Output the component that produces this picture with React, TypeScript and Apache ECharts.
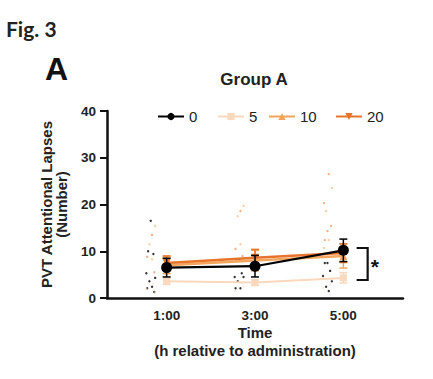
import React, { useEffect, useRef } from "react";
import * as echarts from "echarts";

const times = [1, 3, 5];
const timeLabels = ["1:00", "3:00", "5:00"];
const groups = ["0", "5", "10", "20"];
const colors = ["#000000", "#f9d8bd", "#f4a55c", "#e8732a"];

const means0 = [6.5, 6.8, 10.2];
const sem0 = [2.0, 2.3, 2.4];
const means5 = [3.6, 3.3, 4.3];
const sem5 = [0.7, 0.6, 1.1];
const means10 = [7.0, 8.0, 9.0];
const sem10 = [1.8, 2.2, 2.6];
const means20 = [7.5, 8.6, 9.6];
const sem20 = [1.5, 1.8, 2.0];

// individual subject values at 1:00, 3:00, 5:00
const dots0 = [
  [16.5, 10, 9.4, 5.3, 4.3, 3.6, 2.4, 2.1, 1.3],
  [8.3, 8.3, 5.3, 4.5, 4.5, 3.6, 2.1, 2.1],
  [7.5, 7.5, 5.8, 4.7, 3.6, 2.4, 1.5],
];
const dots5 = [
  [3.0, 2.0, 1.2],
  [3.2, 1.5, 2.5],
  [3.0, 2.2, 4.0],
];
const dots10 = [
  [15.4, 11.5, 8.3],
  [19.7, 17.5, 11.5],
  [23.5, 18.6, 12.4, 10.7],
];
const dots20 = [
  [13.5, 8.8, 5.5],
  [18.6, 10.5, 9.0],
  [26.5, 20.3, 15.4, 14.3, 12.4],
];

const xRange = [-0.35, 6.35];
const sigRange = [3.85, 10.7];

const allMeans = [means0, means5, means10, means20];
const allSem = [sem0, sem5, sem10, sem20];
const allDots = [dots0, dots5, dots10, dots20];
const symbols = ["circle", "rect", "triangle", "path://M0,0 L10,0 L5,10 Z"];
const symbolSizes = [11, 7, 8, 8];
const lineWidths = [2.2, 2, 2.5, 2.5];
const legendLefts = [152, 212, 263, 330];

const jitter = [0, -0.06, 0.06, -0.1, 0.1, -0.03, 0.03, -0.08, 0.08];

export default function App() {
  const ref = useRef<HTMLDivElement>(null);
  useEffect(() => {
    if (!ref.current) return;
    const chart = echarts.init(ref.current, null, { renderer: "svg" });
    const font = "'Liberation Sans', Arial, sans-serif";

    const dotSeries: any[] = allDots.map((dd, g) => ({
      type: "scatter",
      name: groups[g] + "_dots",
      symbol: "circle",
      symbolSize: 2.4,
      itemStyle: { color: colors[g], opacity: g === 0 ? 0.8 : 0.55 },
      z: 1,
      data: dd.flatMap((vals, ti) =>
        vals.map((v, k) => [times[ti] - 0.36 + jitter[(k + g * 2) % jitter.length], v])
      ),
      silent: true,
    }));

    const errSeries: any[] = allMeans.map((m, g) => ({
      type: "custom",
      name: groups[g] + "_err",
      z: g === 0 ? 6 : 3 + g * 0.1,
      data: times.map((t, i) => [t, m[i] - allSem[g][i], m[i] + allSem[g][i]]),
      renderItem: (params: any, api: any) => {
        const x = api.value(0);
        const lo = api.coord([x, api.value(1)]);
        const hi = api.coord([x, api.value(2)]);
        const w = 4;
        const style = { stroke: colors[g], lineWidth: 1.5, fill: "none" };
        return {
          type: "group",
          children: [
            { type: "line", shape: { x1: lo[0], y1: lo[1], x2: hi[0], y2: hi[1] }, style },
            { type: "line", shape: { x1: lo[0] - w, y1: lo[1], x2: lo[0] + w, y2: lo[1] }, style },
            { type: "line", shape: { x1: hi[0] - w, y1: hi[1], x2: hi[0] + w, y2: hi[1] }, style },
          ],
        };
      },
      silent: true,
    }));

    const order = [1, 2, 3, 0];
    const lineSeries: any[] = order.map((g) => ({
      type: "line",
      name: groups[g],
      data: times.map((t, i) => [t, allMeans[g][i]]),
      symbol: symbols[g],
      symbolSize: symbolSizes[g],
      showSymbol: true,
      lineStyle: { color: colors[g], width: lineWidths[g] },
      itemStyle: { color: colors[g] },
      z: g === 0 ? 8 : 4 + g * 0.1,
    }));

    const bracket: any = {
      type: "custom",
      name: "sig",
      z: 10,
      data: [[5.3, 5.55, sigRange[0], sigRange[1]]],
      renderItem: (params: any, api: any) => {
        const a = api.coord([api.value(0), api.value(3)]);
        const b = api.coord([api.value(1), api.value(3)]);
        const c = api.coord([api.value(1), api.value(2)]);
        const d = api.coord([api.value(0), api.value(2)]);
        const mid = api.coord([api.value(1), (api.value(2) + api.value(3)) / 2]);
        return {
          type: "group",
          children: [
            {
              type: "polyline",
              shape: { points: [a, b, c, d] },
              style: { stroke: "#111", lineWidth: 2.2, fill: "none" },
            },
            {
              type: "text",
              x: mid[0] + 3,
              y: mid[1] + 3,
              style: {
                text: "*",
                fill: "#111",
                font: `bold 21px ${font}`,
                align: "left",
                verticalAlign: "middle",
              },
            },
          ],
        };
      },
      silent: true,
    };

    const axisLineStyle = { color: "#111", width: 2.5 };

    chart.setOption({
      animation: false,
      grid: { left: 107, right: 30, top: 111, bottom: 81 },
      legend: groups.map((g, i) => ({
        data: [g],
        left: legendLefts[i],
        top: 104,
        itemWidth: 26,
        itemHeight: 9,
        textStyle: { fontFamily: font, fontSize: 15, color: "#222" },
      })),
      xAxis: {
        type: "value",
        min: xRange[0],
        max: xRange[1],
        splitLine: { show: false },
        axisLine: { show: true, onZero: false, lineStyle: axisLineStyle },
        axisTick: { show: false },
        axisLabel: {
          customValues: times,
          formatter: (v: number) => timeLabels[times.indexOf(v)] ?? "",
          fontFamily: font,
          fontWeight: "bold",
          fontSize: 13.5,
          color: "#222",
          margin: 10,
        },
        name: "Time\n(h relative to administration)",
        nameLocation: "middle",
        nameGap: 25,
        nameTextStyle: {
          fontFamily: font,
          fontWeight: "bold",
          fontSize: 15,
          color: "#222",
          lineHeight: 18,
        },
      },
      yAxis: {
        type: "value",
        min: 0,
        max: 40,
        interval: 10,
        splitLine: { show: false },
        axisLine: { show: true, onZero: false, lineStyle: axisLineStyle },
        axisTick: { show: true, length: 7, lineStyle: { color: "#111", width: 2 } },
        axisLabel: {
          fontFamily: font,
          fontWeight: "bold",
          fontSize: 13.5,
          color: "#222",
          margin: 11,
        },
        name: "PVT Attentional Lapses\n(Number)",
        nameLocation: "middle",
        nameGap: 38,
        nameTextStyle: {
          fontFamily: font,
          fontWeight: "bold",
          fontSize: 15,
          color: "#222",
          lineHeight: 15,
        },
      },
      graphic: [
        {
          type: "text",
          left: 6,
          top: 18,
          style: { text: "Fig. 3", font: "bold 21px Lato, 'Open Sans', sans-serif", fill: "#222" },
        },
        {
          type: "text",
          left: 45,
          top: 53,
          style: { text: "A", font: `bold 32px ${font}`, fill: "#111" },
        },
        {
          type: "text",
          x: 254,
          y: 79,
          style: {
            text: "Group A",
            font: `bold 17px ${font}`,
            fill: "#222",
            align: "center",
            verticalAlign: "middle",
          },
        },
      ],
      series: [...dotSeries, ...errSeries, ...lineSeries, bracket],
    });
    return () => chart.dispose();
  }, []);
  return (
    <div
      ref={ref}
      style={{ position: "fixed", left: 0, top: 0, width: 433, height: 379, background: "#fff" }}
    />
  );
}
